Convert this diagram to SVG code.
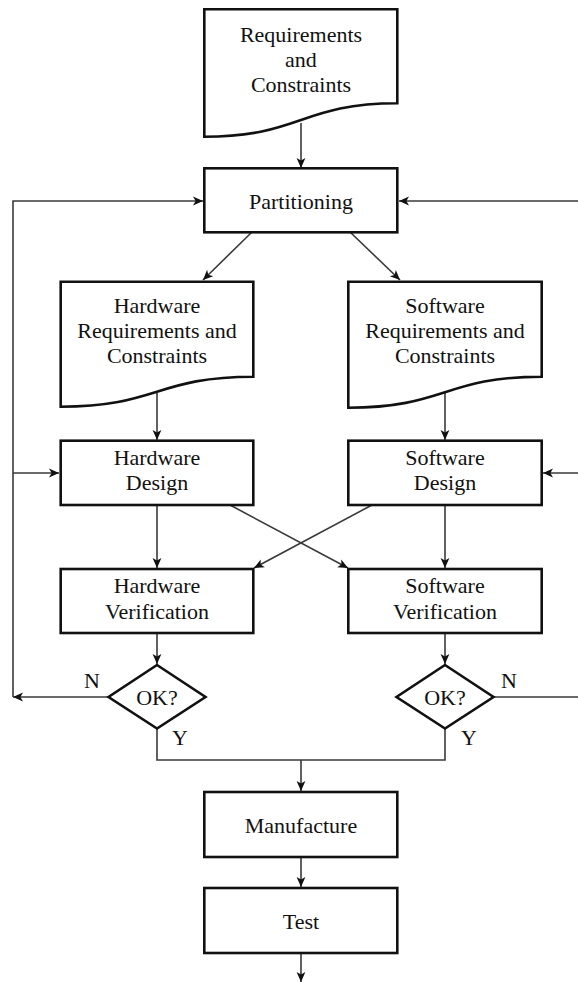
<svg xmlns="http://www.w3.org/2000/svg" width="578" height="983" viewBox="0 0 578 983">
<style>
.box{fill:#fff;stroke:#111;stroke-width:2.6;stroke-linejoin:miter}
.lbl{font-family:"Liberation Serif",serif;font-size:22px;fill:#111;text-anchor:middle}
.sm{font-family:"Liberation Serif",serif;font-size:22px;fill:#111;text-anchor:middle}
.c{fill:none;stroke:#3a3a3a;stroke-width:1.6}
.a{marker-end:url(#arr)}
</style>
<defs>
<marker id="arr" markerWidth="12" markerHeight="10" refX="11" refY="5" orient="auto" markerUnits="userSpaceOnUse" viewBox="0 0 12 10">
<path d="M1,0.6 L11,5 L1,9.4 L3.6,5 Z" fill="#111"/>
</marker>
</defs>
<g id="connectors">
<path class="c a" d="M301,123 V168"/>
<path class="c a" d="M252,232 L203,280"/>
<path class="c a" d="M350,232 L400,280"/>
<path class="c a" d="M157,393 V440"/>
<path class="c a" d="M445,393 V440"/>
<path class="c a" d="M157,505 V568"/>
<path class="c a" d="M445,505 V568"/>
<path class="c a" d="M230,505 L348,568"/>
<path class="c a" d="M372,505 L254,568"/>
<path class="c a" d="M157,633 V664"/>
<path class="c a" d="M445,633 V664"/>
<path class="c a" d="M108.5,697 H13"/>
<path class="c a" d="M13,697 V201 H203"/>
<path class="c a" d="M13,473 H59"/>
<path class="c a" d="M493.5,697 H589"/>
<path class="c a" d="M589,697 V201 H399"/>
<path class="c a" d="M589,473 H543"/>
<path class="c" d="M157,728.5 V760 H445 V728.5"/>
<path class="c a" d="M301,760 V791"/>
<path class="c a" d="M301,857 V887"/>
<path class="c a" d="M301,953 V982"/>
</g>
<g id="req">
<path class="box" d="M204.3,9.3 H397.3 V103.3 C301,103.3 301,136.7 204.3,136.7 Z"/>
<text class="lbl" x="301" y="42">Requirements</text>
<text class="lbl" x="301" y="67">and</text>
<text class="lbl" x="301" y="92">Constraints</text>
</g>
<g id="partitioning">
<rect class="box" x="204.3" y="168.3" width="193" height="64"/>
<text class="lbl" x="301" y="209">Partitioning</text>
</g>
<g id="hwreq">
<path class="box" d="M60.7,281.7 H253.3 V376.7 C157,376.7 157,406.7 60.7,406.7 Z"/>
<text class="lbl" x="157" y="313">Hardware</text>
<text class="lbl" x="157" y="338">Requirements and</text>
<text class="lbl" x="157" y="363">Constraints</text>
</g>
<g id="swreq">
<path class="box" d="M348.3,281.7 H541.7 V376.7 C445,376.7 445,407.7 348.3,407.7 Z"/>
<text class="lbl" x="445" y="313">Software</text>
<text class="lbl" x="445" y="338">Requirements and</text>
<text class="lbl" x="445" y="363">Constraints</text>
</g>
<g id="hwdesign">
<rect class="box" x="60.7" y="440.7" width="192.6" height="64.3"/>
<text class="lbl" x="157" y="465">Hardware</text>
<text class="lbl" x="157" y="490">Design</text>
</g>
<g id="swdesign">
<rect class="box" x="348.3" y="440.7" width="193.4" height="64.3"/>
<text class="lbl" x="445" y="465">Software</text>
<text class="lbl" x="445" y="490">Design</text>
</g>
<g id="hwverif">
<rect class="box" x="60.7" y="569" width="192.6" height="64"/>
<text class="lbl" x="157" y="593">Hardware</text>
<text class="lbl" x="157" y="619">Verification</text>
</g>
<g id="swverif">
<rect class="box" x="348.3" y="569" width="193.4" height="64"/>
<text class="lbl" x="445" y="593">Software</text>
<text class="lbl" x="445" y="619">Verification</text>
</g>
<g id="hwok">
<path class="box" d="M157,665 L205.5,697 L157,728.5 L108.5,697 Z"/>
<text class="lbl" x="157" y="705">OK?</text>
<text class="sm" x="92" y="688">N</text>
<text class="sm" x="180" y="745">Y</text>
</g>
<g id="swok">
<path class="box" d="M445,665 L493.5,697 L445,728.5 L396.5,697 Z"/>
<text class="lbl" x="445" y="705">OK?</text>
<text class="sm" x="509" y="688">N</text>
<text class="sm" x="469" y="745">Y</text>
</g>
<g id="manufacture">
<rect class="box" x="204.3" y="792" width="193" height="65"/>
<text class="lbl" x="301" y="833">Manufacture</text>
</g>
<g id="test">
<rect class="box" x="204.3" y="888" width="193" height="65"/>
<text class="lbl" x="301" y="929">Test</text>
</g>
</svg>
